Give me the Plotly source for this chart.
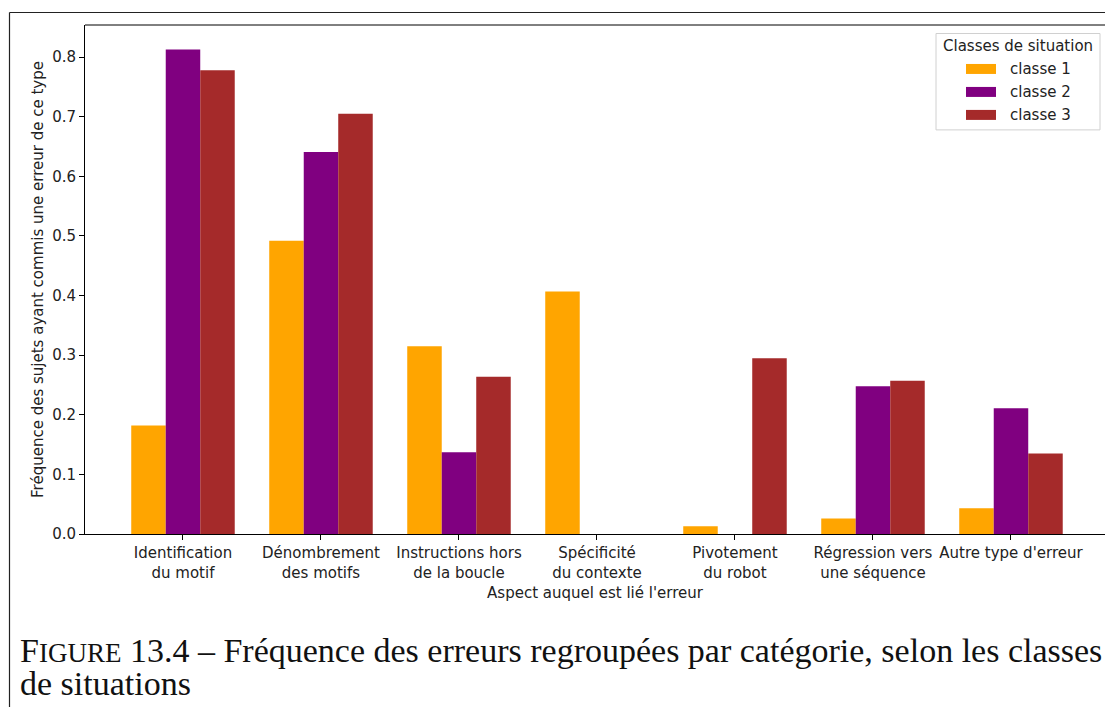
import plotly.graph_objects as go

# Error categories (x axis) and per-class frequencies
categories = [
    "Identification<br>du motif",
    "Dénombrement<br>des motifs",
    "Instructions hors<br>de la boucle",
    "Spécificité<br>du contexte",
    "Pivotement<br>du robot",
    "Régression vers<br>une séquence",
    "Autre type d'erreur",
]
classe_1 = [0.182, 0.492, 0.315, 0.407, 0.013, 0.026, 0.043]
classe_2 = [0.813, 0.641, 0.137, 0.0, 0.0, 0.248, 0.211]
classe_3 = [0.778, 0.705, 0.264, 0.0, 0.295, 0.257, 0.135]

series_names = ["classe 1", "classe 2", "classe 3"]
series_colors = ["#FFA500", "#800080", "#A52A2A"]
y_ticks = [0.0, 0.1, 0.2, 0.3, 0.4, 0.5, 0.6, 0.7, 0.8]

W, H = 1105, 707
L, R, T, B = 85, 0, 25, 172.5
plot_w = W - L - R
plot_h = H - T - B

x_pos = list(range(len(categories)))

fig = go.Figure()
for name, vals, col in zip(series_names, [classe_1, classe_2, classe_3], series_colors):
    fig.add_trace(go.Bar(x=x_pos, y=vals, name=name, marker=dict(color=col, line=dict(width=0)),
                         showlegend=False))

tick_font = dict(family="DejaVu Sans", size=15, color="#222222")

fig.update_layout(
    width=W, height=H,
    margin=dict(l=L, r=R, t=T, b=B, pad=0),
    paper_bgcolor="white", plot_bgcolor="white",
    barmode="group", bargap=0.25, bargroupgap=0,
    font=tick_font,
)
fig.update_xaxes(
    range=[-0.7101, 6.6812], tickmode="array", tickvals=x_pos, ticktext=categories,
    showline=True, linecolor="black", linewidth=1, ticks="outside", ticklen=5,
    tickcolor="black", showgrid=False, zeroline=False, tickfont=tick_font,
    title=dict(text="Aspect auquel est lié l'erreur", font=tick_font, standoff=6),
)
fig.update_yaxes(
    range=[0, 0.854], tickmode="array", tickvals=y_ticks,
    ticktext=[f"{v:.1f}" for v in y_ticks],
    showline=True, linecolor="black", linewidth=1, ticks="outside", ticklen=5,
    tickcolor="black", showgrid=False, zeroline=False, tickfont=tick_font,
    title=dict(text="Fréquence des sujets ayant commis une erreur de ce type", font=tick_font, standoff=4),
)

def px_x(px):
    return (px - L) / plot_w

def px_y(py):
    return (H - B - py) / plot_h

shapes = []
# top spine
shapes.append(dict(type="line", xref="paper", yref="paper", x0=0, x1=px_x(W + 5), y0=1, y1=1,
                   line=dict(color="black", width=1)))
# outer frame around the figure
shapes.append(dict(type="line", xref="paper", yref="paper", x0=px_x(9.5), x1=px_x(W + 5),
                   y0=px_y(12.5), y1=px_y(12.5), line=dict(color="#222222", width=1.2)))
shapes.append(dict(type="line", xref="paper", yref="paper", x0=px_x(9.5), x1=px_x(9.5),
                   y0=px_y(12.5), y1=px_y(H + 5), line=dict(color="#222222", width=1.2)))

# legend box
shapes.append(dict(type="rect", xref="paper", yref="paper", x0=px_x(936), x1=px_x(1100),
                   y0=px_y(130), y1=px_y(33.5), line=dict(color="#d0d0d0", width=1),
                   fillcolor="rgba(255,255,255,0.8)"))
annotations = [
    dict(text="Classes de situation", xref="paper", yref="paper", x=px_x(1018), y=px_y(46.5),
         xanchor="center", yanchor="middle", showarrow=False, font=tick_font),
]
entry_y = [69, 92, 115]
for name, col, ey in zip(series_names, series_colors, entry_y):
    shapes.append(dict(type="rect", xref="paper", yref="paper", x0=px_x(966), x1=px_x(996),
                       y0=px_y(ey + 5), y1=px_y(ey - 5), line=dict(width=0), fillcolor=col))
    annotations.append(dict(text=name, xref="paper", yref="paper", x=px_x(1008), y=px_y(ey),
                            xanchor="left", yanchor="middle", showarrow=False, font=tick_font))

# caption below the chart
cap_font = dict(family="Liberation Serif", size=34, color="#111111")
annotations.append(dict(
    text="F<span style='font-size:27px'>IGURE</span> 13.4 – Fréquence des erreurs regroupées par catégorie, selon les classes",
    xref="paper", yref="paper", x=px_x(18), y=px_y(651), xanchor="left", yanchor="middle",
    showarrow=False, font=cap_font))
annotations.append(dict(
    text="de situations", xref="paper", yref="paper", x=px_x(18), y=px_y(684),
    xanchor="left", yanchor="middle", showarrow=False, font=cap_font))

fig.update_layout(shapes=shapes, annotations=annotations)
fig.write_html("out.html")
